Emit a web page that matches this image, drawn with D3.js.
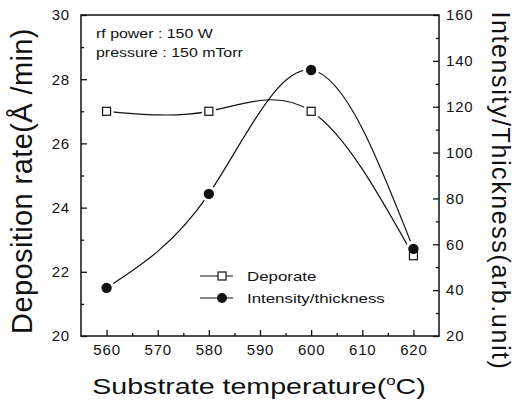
<!DOCTYPE html>
<html>
<head>
<meta charset="utf-8">
<script src="https://cdn.jsdelivr.net/npm/d3@7"></script>
<style>
  body { margin: 0; background: #fff; }
  svg text { font-family: "Liberation Sans", Arial, sans-serif; fill: #111; }
</style>
</head>
<body>
<div id="chart"></div>
<script>
// data
const temps = [560, 580, 600, 620];
const deporate = [27, 27, 27, 22.5];
const intensity = [41, 82, 136, 58];

const xTicks = [560, 570, 580, 590, 600, 610, 620];
const xMinor = [565, 575, 585, 595, 605, 615];
const leftTicks = [20, 22, 24, 26, 28, 30];
const leftMinor = [21, 23, 25, 27, 29];
const rightTicks = [20, 40, 60, 80, 100, 120, 140, 160];
const rightMinor = [30, 50, 70, 90, 110, 130, 150];

const width = 514, height = 401;
const margin = { top: 15, right: 75, bottom: 65, left: 81 };

const svg = d3.select("#chart").append("svg")
  .attr("width", width)
  .attr("height", height);

const x = d3.scaleLinear().domain([555, 625]).range([margin.left, width - margin.right]);
const yL = d3.scaleLinear().domain([20, 30]).range([height - margin.bottom, margin.top]);
const yR = d3.scaleLinear().domain([20, 160]).range([height - margin.bottom, margin.top]);

const bottomY = height - margin.bottom;
const rightX = width - margin.right;

// Axes (ticks point inward)
function styleAxis(g) {
  g.select(".domain").remove();
  g.selectAll("line").attr("stroke", "#111").attr("stroke-width", 1.3);
  g.selectAll("text")
    .style("font-size", "15px")
    .style("letter-spacing", "0.8px")
    .attr("fill", "#111");
}

svg.append("g")
  .attr("transform", `translate(0,${bottomY})`)
  .call(d3.axisBottom(x).tickValues(xTicks).tickSize(-6).tickPadding(8))
  .call(styleAxis);
svg.append("g")
  .attr("transform", `translate(0,${bottomY})`)
  .call(d3.axisBottom(x).tickValues(xMinor).tickSize(-3).tickFormat(""))
  .call(styleAxis);

svg.append("g")
  .attr("transform", `translate(${margin.left},0)`)
  .call(d3.axisLeft(yL).tickValues(leftTicks).tickSize(-6).tickPadding(11))
  .call(styleAxis);
svg.append("g")
  .attr("transform", `translate(${margin.left},0)`)
  .call(d3.axisLeft(yL).tickValues(leftMinor).tickSize(-3).tickFormat(""))
  .call(styleAxis);

svg.append("g")
  .attr("transform", `translate(${rightX},0)`)
  .call(d3.axisRight(yR).tickValues(rightTicks).tickSize(-6).tickPadding(7))
  .call(styleAxis);
svg.append("g")
  .attr("transform", `translate(${rightX},0)`)
  .call(d3.axisRight(yR).tickValues(rightMinor).tickSize(-3).tickFormat(""))
  .call(styleAxis);

// frame
svg.append("rect")
  .attr("x", margin.left)
  .attr("y", margin.top)
  .attr("width", rightX - margin.left)
  .attr("height", bottomY - margin.top)
  .attr("fill", "none")
  .attr("stroke", "#111")
  .attr("stroke-width", 1.5);

// curves
const depPts = temps.map((t, i) => [x(t), yL(deporate[i])]);
const intPts = temps.map((t, i) => [x(t), yR(intensity[i])]);
const line = d3.line().curve(d3.curveNatural);

svg.append("path").attr("d", line(depPts))
  .attr("fill", "none").attr("stroke", "#111").attr("stroke-width", 1.2);
svg.append("path").attr("d", line(intPts))
  .attr("fill", "none").attr("stroke", "#111").attr("stroke-width", 1.2);

// white gaps round the symbols
svg.selectAll(".halo-sq").data(depPts).enter().append("rect")
  .attr("x", d => d[0] - 7).attr("y", d => d[1] - 7)
  .attr("width", 14).attr("height", 14).attr("fill", "#fff");
svg.selectAll(".halo-c").data(intPts).enter().append("circle")
  .attr("cx", d => d[0]).attr("cy", d => d[1]).attr("r", 8).attr("fill", "#fff");

// symbols
svg.selectAll(".sq").data(depPts).enter().append("rect")
  .attr("x", d => d[0] - 4).attr("y", d => d[1] - 4)
  .attr("width", 8).attr("height", 8)
  .attr("fill", "#fff").attr("stroke", "#111").attr("stroke-width", 1.2);
svg.selectAll(".dot").data(intPts).enter().append("circle")
  .attr("cx", d => d[0]).attr("cy", d => d[1]).attr("r", 5.2)
  .attr("fill", "#111");

// annotation
const note = ["rf power : 150 W", "pressure : 150 mTorr"];
note.forEach((t, i) => {
  svg.append("text")
    .attr("transform", `translate(96,${38 + i * 19}) scale(1.18,1)`)
    .style("font-size", "13.5px")
    .text(t);
});

// legend
const legend = [
  { label: "Deporate", type: "square", y: 276 },
  { label: "Intensity/thickness", type: "circle", y: 298 }
];
legend.forEach(l => {
  svg.append("line")
    .attr("x1", 200).attr("x2", 233).attr("y1", l.y).attr("y2", l.y)
    .attr("stroke", "#111").attr("stroke-width", 1.2);
  if (l.type === "square") {
    svg.append("rect").attr("x", 218).attr("y", l.y - 4).attr("width", 8).attr("height", 8)
      .attr("fill", "#fff").attr("stroke", "#111").attr("stroke-width", 1.2);
  } else {
    svg.append("circle").attr("cx", 222).attr("cy", l.y).attr("r", 5).attr("fill", "#111");
  }
  svg.append("text")
    .attr("transform", `translate(247,${l.y + 5}) scale(1.25,1)`)
    .style("font-size", "13.5px")
    .text(l.label);
});

// axis titles
const xTitle = svg.append("text")
  .attr("transform", `translate(259,394) scale(1.3,1)`)
  .attr("text-anchor", "middle")
  .style("font-size", "22px");
xTitle.append("tspan").text("Substrate temperature(");
xTitle.append("tspan").attr("dy", -9).style("font-size", "13px").text("o");
xTitle.append("tspan").attr("dy", 9).text("C)");

svg.append("text")
  .attr("transform", "translate(32,181) rotate(-90)")
  .attr("text-anchor", "middle")
  .style("font-size", "29px")
  .style("letter-spacing", "0.4px")
  .text("Deposition rate(Å /min)");

svg.append("text")
  .attr("transform", "translate(492,191) rotate(90)")
  .attr("text-anchor", "middle")
  .style("font-size", "25px")
  .style("letter-spacing", "1.6px")
  .text("Intensity/Thickness(arb.unit)");
</script>
</body>
</html>
